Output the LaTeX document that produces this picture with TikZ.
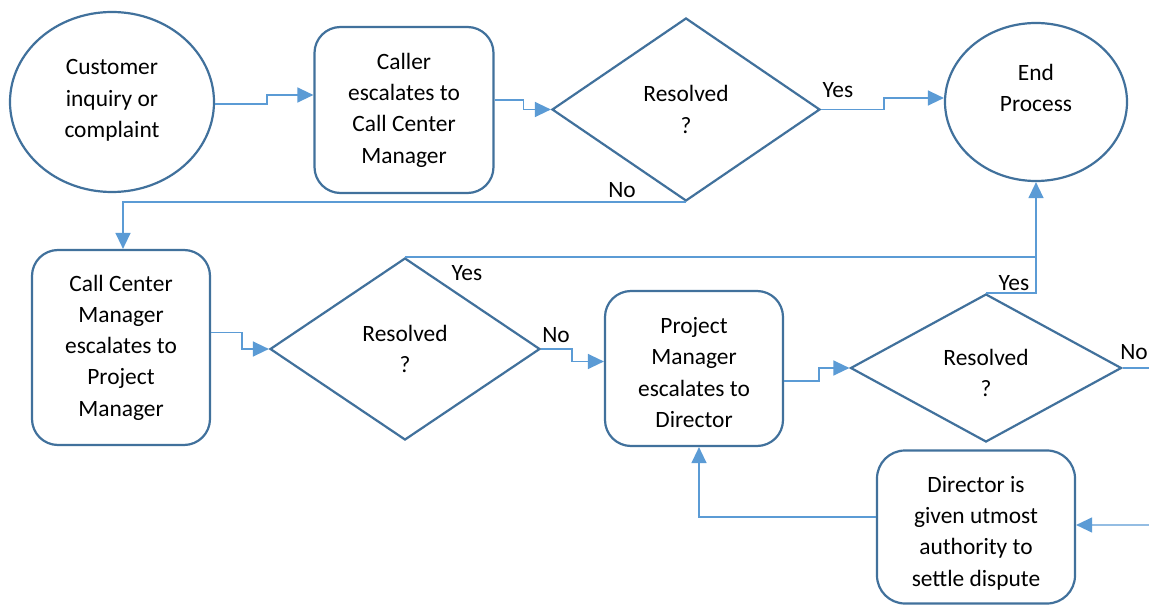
\documentclass[tikz,border=0pt]{standalone}
\usepackage{fontspec}
\setmainfont{Carlito}
\usetikzlibrary{shapes.geometric,arrows.meta,calc}
\definecolor{edge}{HTML}{41719C}
\definecolor{wire}{HTML}{5B9BD5}
\begin{document}
\begin{tikzpicture}[x=1bp,y=-1bp,
  every node/.style={font=\fontsize{23.5}{31.4}\selectfont, text=black},
  shapebox/.style={draw=edge, line width=2.2bp, align=center, inner sep=0pt},
  oval/.style={shapebox, ellipse},
  task/.style={shapebox, rectangle, rounded corners=26bp},
  query/.style={shapebox, diamond},
  wireline/.style={draw=wire, line width=1.3bp},
  conn/.style={wireline, -{Triangle[length=16bp,width=15bp]}},
  lbl/.style={inner sep=0pt}
]
\useasboundingbox (0,0) rectangle (1149,605);
\fill[white] (0,0) rectangle (1149,605);
\clip (0,0) rectangle (1149,605);

% process steps and decisions
\node[oval, minimum width=204bp, minimum height=180bp] (cust) at (112,102) {Customer\\inquiry or\\complaint\rule[-7bp]{0pt}{0pt}};
\node[task, minimum width=179bp, minimum height=166bp] (caller) at (404,110) {Caller\\escalates to\\Call Center\\Manager};
\node[query, minimum width=268bp, minimum height=183bp] (d1) at (686,109.5) {Resolved\\?};
\node[oval, minimum width=182bp, minimum height=158bp] (endp) at (1036,102) {\rule{0pt}{20bp}End\\Process\\\mbox{}};
\node[task, minimum width=178bp, minimum height=195bp] (ccm) at (121,347.5) {Call Center\\Manager\\escalates to\\Project\\Manager};
\node[query, minimum width=270bp, minimum height=182bp] (d2) at (405,349) {Resolved\\?};
\node[task, minimum width=178bp, minimum height=155bp] (pm) at (694,368.5) {\rule{0pt}{24bp}Project\\Manager\\escalates to\\Director};
\node[query, minimum width=271bp, minimum height=148bp] (d3) at (986,368) {\rule{0pt}{26bp}Resolved\\?};
\node[task, minimum width=198bp, minimum height=153bp, rounded corners=28bp] (dir) at (976,527) {\rule{0pt}{28bp}Director is\\given utmost\\authority to\\settle dispute};

% branch labels
\node[lbl] (yes1) at (838,90) {Yes};
\node[lbl] (no1) at (622,190) {No};
\node[lbl] (yes2) at (467,273) {Yes};
\node[lbl] (no2) at (556,335) {No};
\node[lbl] (yes3) at (1014,283) {Yes};
\node[lbl] (no3) at (1134,352) {No};

% loose ends running off the right edge
\coordinate (exitR) at (1160,368);
\coordinate (entryR) at (1160,525);

% connectors
\draw[conn] ([yshift=-2bp]cust.east) -- ++(52,0) |- ([yshift=15bp]caller.west);
\draw[conn] ([yshift=10bp]caller.east) -- ++(29,0) |- (d1.west);
\draw[conn] (d1.east) -- ++(63,0) |- ([yshift=4bp]endp.west);
\draw[conn] (d1.south) -| ([xshift=2bp]ccm.north);
\draw[conn] ([yshift=15bp]ccm.east) -- ++(31,0) |- (d2.west);
\draw[conn] (d2.north) -| (endp.south);
\draw[wireline] (d3.north) -| (endp.south |- d2.north);
\draw[conn] (d2.east) -- ++(31,0) |- ([yshift=7bp]pm.west);
\draw[conn] ([yshift=-12.5bp]pm.east) -- ++(35,0) |- (d3.west);
\draw[wireline] (d3.east) -- (exitR);
\draw[conn] (entryR) -- ([yshift=2bp]dir.east);
\draw[conn] ([yshift=10bp]dir.west) -| ([xshift=5bp]pm.south);
\end{tikzpicture}
\end{document}
